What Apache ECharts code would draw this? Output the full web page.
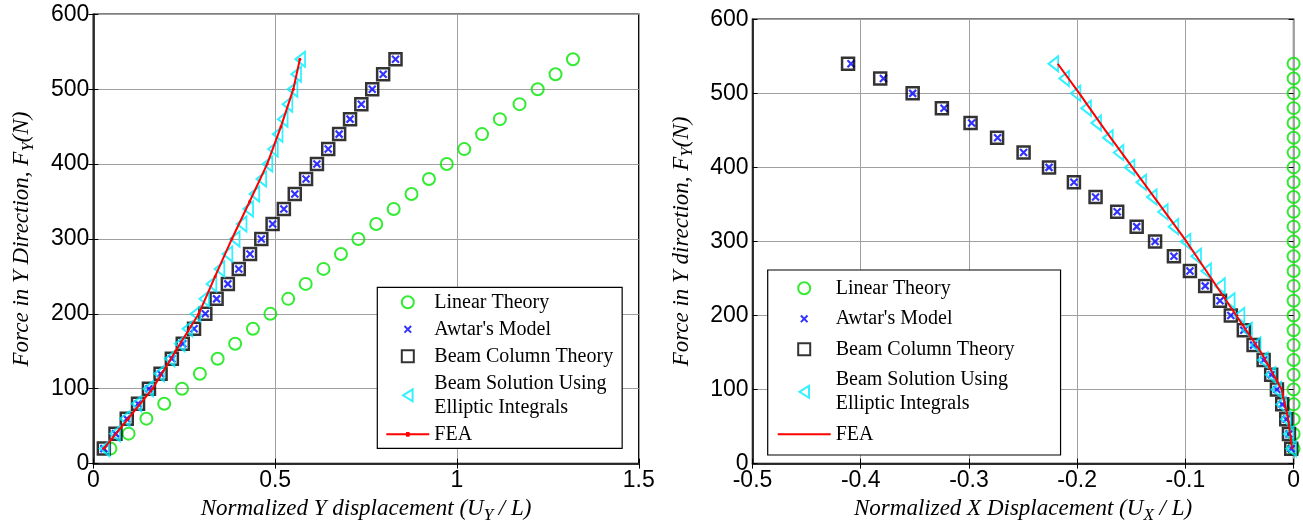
<!DOCTYPE html>
<html><head><meta charset="utf-8">
<script src="https://cdn.jsdelivr.net/npm/echarts@6/dist/echarts.min.js"></script>
<style>html,body{margin:0;padding:0;background:#fff}#c{width:1303px;height:529px}</style>
</head><body><div id="c"></div>
<script>
// ---------- data ----------
const force = [20,40,60,80,100,120,140,160,180,200,220,240,260,280,300,320,340,360,380,400,420,440,460,480,500,520,540];
// Left plot: normalized Y displacement
const leftLinear   = [0.047,0.097,0.146,0.195,0.244,0.293,0.342,0.390,0.439,0.487,0.536,0.584,0.633,0.681,0.729,0.778,0.826,0.875,0.923,0.972,1.020,1.069,1.118,1.172,1.222,1.271,1.319];
const leftAwtar    = [0.029,0.061,0.092,0.123,0.153,0.185,0.216,0.246,0.277,0.308,0.339,0.370,0.400,0.431,0.462,0.493,0.524,0.554,0.585,0.615,0.646,0.676,0.706,0.737,0.767,0.797,0.831];
const leftBeam     = [0.029,0.061,0.092,0.123,0.153,0.185,0.216,0.246,0.277,0.308,0.339,0.370,0.400,0.431,0.462,0.493,0.524,0.554,0.585,0.615,0.646,0.676,0.706,0.737,0.767,0.797,0.831];
const leftElliptic = [0.031,0.060,0.087,0.119,0.151,0.181,0.210,0.238,0.259,0.281,0.305,0.325,0.347,0.369,0.389,0.408,0.426,0.443,0.462,0.479,0.494,0.507,0.521,0.534,0.548,0.558,0.569];
const leftFeaF     = [20,60,100,150,200,250,300,350,400,450,500,540];
const leftFeaX     = [0.029,0.096,0.163,0.226,0.290,0.335,0.381,0.430,0.478,0.516,0.550,0.568];
// Right plot: normalized X displacement
const rightLinear   = [0,0,0,0,0,0,0,0,0,0,0,0,0,0,0,0,0,0,0,0,0,0,0,0,0,0,0];
const rightAwtar    = [-0.0022,-0.0043,-0.0068,-0.0105,-0.0154,-0.0207,-0.0277,-0.0370,-0.0460,-0.0580,-0.0680,-0.0817,-0.0958,-0.1106,-0.1280,-0.1450,-0.1630,-0.1830,-0.2030,-0.2260,-0.2495,-0.2735,-0.2975,-0.3230,-0.3520,-0.3790,-0.4090];
const rightBeam     = [-0.0022,-0.0043,-0.0068,-0.0105,-0.0154,-0.0207,-0.0277,-0.0370,-0.0460,-0.0580,-0.0680,-0.0817,-0.0958,-0.1106,-0.1280,-0.1450,-0.1630,-0.1830,-0.2030,-0.2260,-0.2495,-0.2740,-0.2985,-0.3250,-0.3520,-0.3820,-0.4117];
const rightElliptic = [-0.0022,-0.0045,-0.0072,-0.0115,-0.0160,-0.0213,-0.0284,-0.0350,-0.0430,-0.0500,-0.0590,-0.0680,-0.0808,-0.0900,-0.0998,-0.1110,-0.1208,-0.1310,-0.1408,-0.1516,-0.1617,-0.1716,-0.1824,-0.1917,-0.2015,-0.2120,-0.2220];
const rightFeaF     = [20,60,100,150,200,250,300,350,400,450,500,540];
const rightFeaX     = [-0.0013,-0.0050,-0.0110,-0.0300,-0.0530,-0.0760,-0.0990,-0.1240,-0.1490,-0.1740,-0.1980,-0.2180];
// tick settings
const leftXTicks  = {min:0, max:1.5, interval:0.5};
const rightXTicks = {min:-0.5, max:0, interval:0.1};
const yTicks      = {min:0, max:600, interval:100};
const legendNames = ['Linear Theory', "Awtar's Model", 'Beam Column Theory', 'Beam Solution Using\nElliptic Integrals', 'FEA'];

// ---------- helpers ----------
const pairs = (xs, ys) => xs.map((x, i) => [x, ys[i]]);
const GREEN = '#00e600', BLUE = '#0000ff', CYAN = '#00eeff', RED = '#ff0000';
const XPATH = 'path://M-4,-4M14,14M0,0L10,10M10,0L0,10';
const SQPATH = 'path://M0,0L10,0L10,10L0,10Z';
const TRIPATH = 'path://M0,7.5L12,0L12,15Z';
const FEA_ICON_L = 'path://M0,0M43,12M0,5L43,5L43,7L0,7Z M19,6L20,3.6L23,3.6L24,6L23,8.4L20,8.4Z';
const FEA_ICON_R = 'path://M0,0M53,12M0,5L53,5L53,7L0,7Z';

function markerSeries(name, idx, data, kind) {
  const base = {name, type:'scatter', xAxisIndex:idx, yAxisIndex:idx, data, clip:false, animation:false, symbolKeepAspect:true};
  if (kind === 'circle') return Object.assign(base, {symbol:'circle', symbolSize:12, itemStyle:{color:'rgba(0,0,0,0)', borderColor:GREEN, borderWidth:2}});
  if (kind === 'x') return Object.assign(base, {symbol:XPATH, symbolSize:12.6, itemStyle:{color:BLUE, borderColor:BLUE, borderWidth:2.2}});
  if (kind === 'rect') return Object.assign(base, {symbol:SQPATH, symbolSize:12, itemStyle:{color:'rgba(0,0,0,0)', borderColor:'#000', borderWidth:2.5}});
  if (kind === 'tri') return Object.assign(base, {symbol:TRIPATH, symbolSize:[12,15], itemStyle:{color:'rgba(0,0,0,0)', borderColor:CYAN, borderWidth:2}});
}

const serif = 'Liberation Serif, Times New Roman, serif';
const sans = 'Liberation Sans, Arial, sans-serif';
const richName = {
  i:{fontFamily:serif, fontStyle:'italic', fontSize:23, lineHeight:30, color:'#000'},
  s:{fontFamily:serif, fontStyle:'italic', fontSize:17, color:'#000', verticalAlign:'bottom'}
};

function xAxisMain(idx, ticks, name, gap) {
  return Object.assign({type:'value', gridIndex:idx, position:'bottom',
    name, nameLocation:'middle', nameGap:gap, nameTextStyle:{rich:richName},
    axisLine:{show:true, onZero:false, lineStyle:{color:'#000', width:1.5}},
    axisTick:{show:true, inside:true, length:5, lineStyle:{color:'#000'}},
    axisLabel:{fontFamily:sans, fontSize:23, color:'#000', margin:6},
    splitLine:{show:true, lineStyle:{color:'#a0a0a0', width:1}}}, ticks);
}
function xAxisTop(idx, ticks) {
  return Object.assign({type:'value', gridIndex:idx, position:'top',
    axisLine:{show:false}, axisTick:{show:true, inside:true, length:5, lineStyle:{color:'#000'}},
    axisLabel:{show:false}, splitLine:{show:false}}, ticks);
}
function yAxisMain(idx, name, gap) {
  return Object.assign({type:'value', gridIndex:idx, position:'left',
    name, nameLocation:'middle', nameGap:gap, nameRotate:90, nameTextStyle:{rich:richName},
    axisLine:{show:true, onZero:false, lineStyle:{color:'#000', width:1.5}},
    axisTick:{show:true, inside:true, length:5, lineStyle:{color:'#000'}},
    axisLabel:{fontFamily:sans, fontSize:23, color:'#000', margin:4},
    splitLine:{show:true, lineStyle:{color:'#a0a0a0', width:1}}}, yTicks);
}
function yAxisRight(idx) {
  return Object.assign({type:'value', gridIndex:idx, position:'right',
    axisLine:{show:false}, axisTick:{show:true, inside:true, length:5, lineStyle:{color:'#000'}},
    axisLabel:{show:false}, splitLine:{show:false}}, yTicks);
}

const legendText = {fontFamily:serif, fontSize:20, color:'#000'};

const option = {
  backgroundColor:'#fff',
  animation:false,
  grid:[
    {left:93.3, top:14.3, width:545.5, height:452, show:true, borderColor:'#000', borderWidth:1.5, backgroundColor:'#fff'},
    {left:752.5, top:19.3, width:541.2, height:449.7, show:true, borderColor:'#000', borderWidth:1.5, backgroundColor:'#fff'}
  ],
  xAxis:[
    xAxisMain(0, leftXTicks, '{i|Normalized Y displacement (U}{s|Y}{i| / L)}', 29),
    xAxisMain(1, rightXTicks, '{i|Normalized X Displacement (U}{s|X}{i| / L)}', 21),
    xAxisTop(0, leftXTicks),
    xAxisTop(1, rightXTicks)
  ],
  yAxis:[
    yAxisMain(0, '{i|Force in Y Direction, F}{s|Y}{i|(N)}', 56),
    yAxisMain(1, '{i|Force in Y direction, F}{s|Y}{i|(N)}', 56),
    yAxisRight(0),
    yAxisRight(1)
  ],
  legend:[
    {left:377.3, top:287.3, orient:'vertical', padding:[3,9,2,9], borderColor:'#000', borderWidth:1.2, backgroundColor:'#fff',
     itemWidth:43, itemHeight:12, itemGap:3, textStyle:Object.assign({lineHeight:24}, legendText),
     selectedMode:false,
     data:[legendNames[0], legendNames[1], legendNames[2], legendNames[3],
           {name:'FEA', icon:FEA_ICON_L, itemStyle:{color:RED, borderWidth:0}}]},
    {left:767.7, top:270, orient:'vertical', padding:[6.3,46,8.7,10], borderColor:'#000', borderWidth:1.2, backgroundColor:'#fff',
     itemWidth:53, itemHeight:12, itemGap:6.5, textStyle:Object.assign({lineHeight:24}, legendText),
     selectedMode:false,
     data:[legendNames[0], legendNames[1], legendNames[2], legendNames[3],
           {name:'FEA ', icon:FEA_ICON_R, itemStyle:{color:RED, borderWidth:0}}]}
  ],
  series:[
    markerSeries(legendNames[0], 0, pairs(leftLinear, force), 'circle'),
    markerSeries(legendNames[1], 0, pairs(leftAwtar, force), 'x'),
    markerSeries(legendNames[2], 0, pairs(leftBeam, force), 'rect'),
    markerSeries(legendNames[3], 0, pairs(leftElliptic, force), 'tri'),
    {name:'FEA', type:'line', xAxisIndex:0, yAxisIndex:0, data:pairs(leftFeaX, leftFeaF), clip:false,
     symbol:'circle', symbolSize:3, showSymbol:true, lineStyle:{color:RED, width:2}, itemStyle:{color:RED}},
    markerSeries(legendNames[0], 1, pairs(rightLinear, force), 'circle'),
    markerSeries(legendNames[1], 1, pairs(rightAwtar, force), 'x'),
    markerSeries(legendNames[2], 1, pairs(rightBeam, force), 'rect'),
    markerSeries(legendNames[3], 1, pairs(rightElliptic, force), 'tri'),
    {name:'FEA ', type:'line', xAxisIndex:1, yAxisIndex:1, data:pairs(rightFeaX, rightFeaF), clip:false,
     symbol:'none', showSymbol:false, lineStyle:{color:RED, width:2}, itemStyle:{color:RED}}
  ]
};
const chart = echarts.init(document.getElementById('c'));
chart.setOption(option);
</script>
</body></html>
